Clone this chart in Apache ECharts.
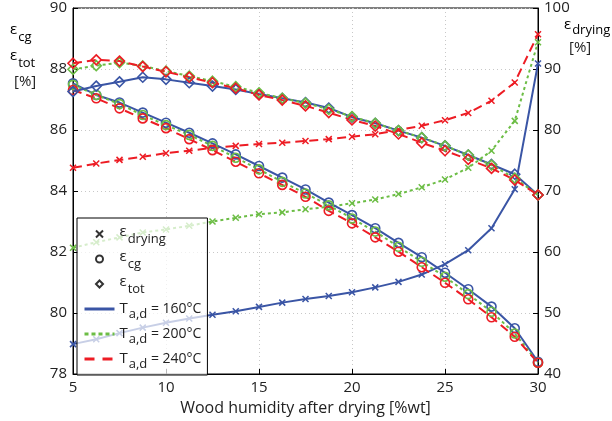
<!DOCTYPE html>
<html>
<head>
<meta charset="utf-8">
<script src="https://cdn.jsdelivr.net/npm/echarts@6/dist/echarts.min.js"></script>
<style>
  html, body { margin: 0; padding: 0; background: #fff; }
  #chart { width: 612px; height: 421px; }
</style>
</head>
<body>
<div id="chart"></div>
<script>
// wood humidity after drying [%wt]
var humidity = [5, 6.25, 7.5, 8.75, 10, 11.25, 12.5, 13.75, 15, 16.25, 17.5, 18.75, 20, 21.25, 22.5, 23.75, 25, 26.25, 27.5, 28.75, 30];

// eps_drying [%] (right axis)
var dry160 = [44.9, 45.7, 46.7, 47.6, 48.4, 49.1, 49.7, 50.3, 51.0, 51.7, 52.3, 52.8, 53.4, 54.2, 55.1, 56.3, 58.0, 60.3, 63.9, 70.3, 90.9];
var dry200 = [60.7, 61.6, 62.4, 63.2, 63.7, 64.3, 65.0, 65.6, 66.2, 66.5, 67.0, 67.4, 68.0, 68.6, 69.5, 70.6, 71.9, 73.8, 76.6, 81.5, 94.4];
var dry240 = [73.8, 74.5, 75.1, 75.6, 76.2, 76.6, 77.1, 77.4, 77.7, 77.9, 78.2, 78.5, 78.9, 79.3, 80.0, 80.7, 81.6, 82.8, 84.8, 87.8, 95.7];

// eps_cg [%] (left axis)
var cg160 = [87.53, 87.15, 86.9, 86.57, 86.24, 85.91, 85.56, 85.2, 84.82, 84.44, 84.05, 83.62, 83.21, 82.78, 82.3, 81.83, 81.32, 80.78, 80.21, 79.5, 78.4];
var cg200 = [87.48, 87.15, 86.85, 86.49, 86.16, 85.84, 85.48, 85.09, 84.71, 84.3, 83.92, 83.53, 83.1, 82.67, 82.17, 81.68, 81.19, 80.62, 80.04, 79.33, 78.37];
var cg240 = [87.31, 87.04, 86.71, 86.38, 86.06, 85.7, 85.34, 84.96, 84.58, 84.2, 83.81, 83.35, 82.94, 82.48, 82.01, 81.5, 80.99, 80.45, 79.86, 79.22, 78.37];

// eps_tot [%] (left axis)
var tot160 = [87.26, 87.44, 87.58, 87.73, 87.66, 87.55, 87.44, 87.33, 87.18, 87.04, 86.9, 86.72, 86.42, 86.22, 85.98, 85.75, 85.48, 85.18, 84.87, 84.55, 83.87];
var tot200 = [87.99, 88.11, 88.21, 88.1, 87.93, 87.77, 87.6, 87.42, 87.22, 87.04, 86.88, 86.68, 86.44, 86.22, 85.98, 85.75, 85.48, 85.18, 84.85, 84.42, 83.87];
var tot240 = [88.19, 88.3, 88.26, 88.08, 87.91, 87.73, 87.55, 87.37, 87.15, 86.98, 86.79, 86.57, 86.33, 86.13, 85.87, 85.58, 85.32, 85.04, 84.74, 84.36, 83.87];

var xTicks = [5, 30, 5];      // min, max, step
var leftTicks = [78, 90, 2];
var rightTicks = [40, 100, 10];

var FONT = "Open Sans";
var BLUE = "#3a55a5";
var GREEN = "#6cbd45";
var RED = "#ed1c24";
var CROSS = "path://M0,0L10,10M0,10L10,0";
var DIAMOND = "path://M5,0L10,5L5,10L0,5Z";

var temps = [
  { name: "160", color: BLUE, dash: "solid", legendDash: "solid" },
  { name: "200", color: GREEN, dash: [3, 3], legendDash: [4, 3] },
  { name: "240", color: RED, dash: [9, 5], legendDash: [10, 8] }
];

function pairs(ys) {
  return humidity.map(function (x, i) { return [x, ys[i]]; });
}

function makeSeries(t, ys, marker, axis) {
  var sym, size, style;
  if (marker === "x") {
    sym = CROSS; size = 6;
    style = { color: "none", borderColor: t.color, borderWidth: 1.5 };
  } else if (marker === "o") {
    sym = "circle"; size = 9;
    style = { color: "rgba(255,255,255,0)", borderColor: t.color, borderWidth: 1.6 };
  } else {
    sym = "diamond"; size = 10;
    style = { color: "rgba(255,255,255,0)", borderColor: t.color, borderWidth: 1.6 };
  }
  return {
    type: "line",
    yAxisIndex: axis,
    data: pairs(ys),
    symbol: sym,
    symbolSize: size,
    showAllSymbol: true,
    itemStyle: style,
    lineStyle: { color: t.color, width: 2, type: t.dash },
    emphasis: { disabled: true },
    silent: true
  };
}

var series = [
  makeSeries(temps[0], dry160, "x", 1),
  makeSeries(temps[1], dry200, "x", 1),
  makeSeries(temps[2], dry240, "x", 1),
  makeSeries(temps[0], cg160, "o", 0),
  makeSeries(temps[1], cg200, "o", 0),
  makeSeries(temps[2], cg240, "o", 0),
  makeSeries(temps[0], tot160, "d", 0),
  makeSeries(temps[1], tot200, "d", 0),
  makeSeries(temps[2], tot240, "d", 0)
];

// legend-only series
series.push(
  { name: "dry", type: "scatter", data: [], symbol: CROSS,
    itemStyle: { color: "none", borderColor: "#000", borderWidth: 1.2 } },
  { name: "cg", type: "scatter", data: [], symbol: "circle",
    itemStyle: { color: "#fff", borderColor: "#000", borderWidth: 1.2 } },
  { name: "tot", type: "scatter", data: [], symbol: DIAMOND,
    itemStyle: { color: "#fff", borderColor: "#000", borderWidth: 1.2 } }
);
temps.forEach(function (t) {
  series.push({ name: t.name, type: "line", data: [], symbol: "none",
    itemStyle: { color: t.color },
    lineStyle: { color: t.color, width: 3, type: t.legendDash } });
});

var legendText = {
  dry: "{e|ε}{s|drying}",
  cg: "{e|ε}{s|cg}",
  tot: "{e|ε}{s|tot}",
  "160": "{t|T}{s|a,d}{u| = 160°C}",
  "200": "{t|T}{s|a,d}{u| = 200°C}",
  "240": "{t|T}{s|a,d}{u| = 240°C}"
};

var rich = {
  e: { fontFamily: FONT, fontSize: 15, color: "#222", lineHeight: 24, verticalAlign: "middle", padding: [0, 0, 4, 0] },
  t: { fontFamily: FONT, fontSize: 15, color: "#222", lineHeight: 24, verticalAlign: "middle" },
  u: { fontFamily: FONT, fontSize: 14, color: "#222", lineHeight: 24, verticalAlign: "middle" },
  s: { fontFamily: FONT, fontSize: 13, color: "#222", lineHeight: 13, verticalAlign: "middle", padding: [11, 0, 0, 1] },
  s2: { fontFamily: FONT, fontSize: 13, color: "#222", lineHeight: 13, verticalAlign: "middle", padding: [7, 0, 0, 1] }
};

var lineItem = function (t) {
  return { name: t.name, itemStyle: { opacity: 0 }, lineStyle: { width: 3, color: t.color, type: t.legendDash } };
};

var myChart = echarts.init(document.getElementById("chart"));
var option = {
  animation: false,
  backgroundColor: "#fff",
  grid: { left: 73, right: 74, top: 8, bottom: 47, show: true, borderColor: "#000", borderWidth: 1, backgroundColor: "transparent" },
  xAxis: {
    type: "value",
    min: xTicks[0], max: xTicks[1], interval: xTicks[2],
    name: "Wood humidity after drying [%wt]",
    nameLocation: "middle", nameGap: 26,
    nameTextStyle: { fontFamily: FONT, fontSize: 16, color: "#222" },
    axisLine: { show: true, lineStyle: { color: "#000", width: 1 } },
    axisTick: { show: true, inside: true, length: 5, lineStyle: { color: "#000" } },
    axisLabel: { fontFamily: FONT, fontSize: 15, color: "#222", margin: 6 },
    splitLine: { show: true, lineStyle: { color: "#c8c8c8", type: [1, 3] } }
  },
  yAxis: [
    {
      type: "value",
      min: leftTicks[0], max: leftTicks[1], interval: leftTicks[2],
      axisLine: { show: true, lineStyle: { color: "#000", width: 1 } },
      axisTick: { show: true, inside: true, length: 5, lineStyle: { color: "#000" } },
      axisLabel: { fontFamily: FONT, fontSize: 15, color: "#222", margin: 6 },
      splitLine: { show: true, lineStyle: { color: "#c8c8c8", type: [1, 3] } }
    },
    {
      type: "value",
      position: "right",
      min: rightTicks[0], max: rightTicks[1], interval: rightTicks[2],
      axisLine: { show: true, lineStyle: { color: "#000", width: 1 } },
      axisTick: { show: true, inside: true, length: 5, lineStyle: { color: "#000" } },
      axisLabel: { fontFamily: FONT, fontSize: 15, color: "#222", margin: 6 },
      splitLine: { show: false }
    }
  ],
  legend: {
    orient: "vertical",
    left: 77, top: 218,
    itemWidth: 30, itemHeight: 7, itemGap: 1,
    padding: [4, 6, 4, 6],
    backgroundColor: "rgba(255,255,255,0.72)",
    borderColor: "#000", borderWidth: 1, borderRadius: 0,
    selectedMode: false,
    data: ["dry", "cg", "tot", lineItem(temps[0]), lineItem(temps[1]), lineItem(temps[2])],
    formatter: function (name) { return legendText[name]; },
    textStyle: { fontFamily: FONT, color: "#222", rich: rich }
  },
  graphic: [
    { type: "text", left: 10, top: 20, style: { text: "{e|ε}{s|cg}", rich: rich } },
    { type: "text", left: 10, top: 46, style: { text: "{e|ε}{s|tot}", rich: rich } },
    { type: "text", left: 14, top: 74, style: { text: "[%]", fontFamily: FONT, fontSize: 15, fill: "#222" } },
    { type: "text", left: 564, top: 17, style: { text: "{e|ε}{s2|drying}", rich: rich } },
    { type: "text", left: 569, top: 40, style: { text: "[%]", fontFamily: FONT, fontSize: 15, fill: "#222" } }
  ],
  series: series
};

option && myChart.setOption(option);
</script>
</body>
</html>
